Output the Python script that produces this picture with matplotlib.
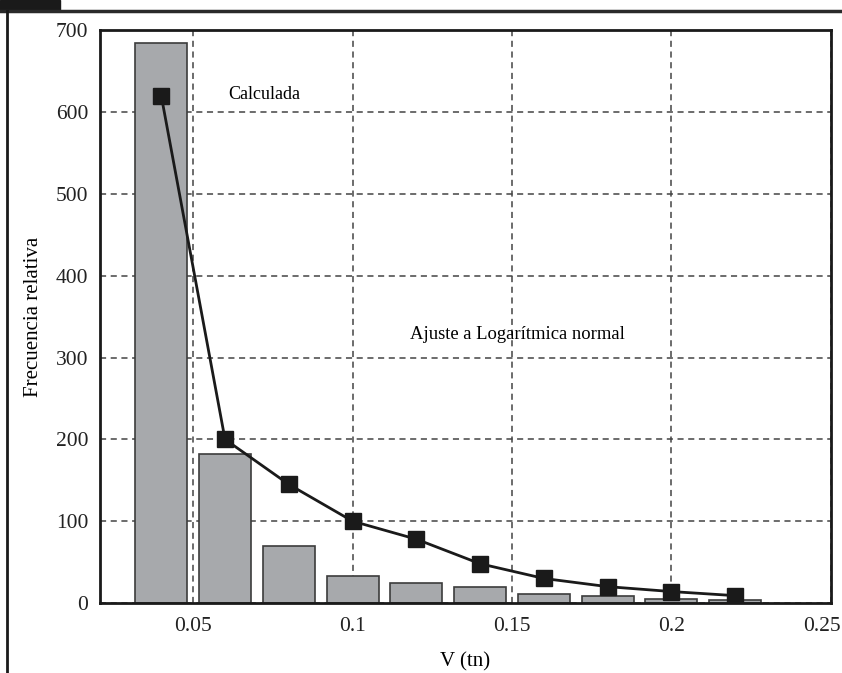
import matplotlib
matplotlib.use("Agg")
import matplotlib.pyplot as plt
import matplotlib.transforms as mtransforms
from matplotlib.lines import Line2D
from matplotlib.patches import Rectangle

# data
v_bins = [0.04, 0.06, 0.08, 0.10, 0.12, 0.14, 0.16, 0.18, 0.20, 0.22]
freq_calc = [685, 182, 70, 33, 25, 19, 11, 9, 5, 4]
freq_lognorm = [620, 200, 145, 100, 78, 48, 30, 20, 14, 9]
y_ticks = [0, 100, 200, 300, 400, 500, 600, 700]
x_ticks = [0.05, 0.1, 0.15, 0.2, 0.25]
x_ticklabels = ["0.05", "0.1", "0.15", "0.2", "0.25"]

plt.rcParams['font.family'] = ['Liberation Serif', 'DejaVu Serif']

fig = plt.figure(figsize=(8.42, 6.73), dpi=100)
ax = fig.add_axes([0.1188, 0.104, 0.868, 0.851])

ax.bar(v_bins, freq_calc, width=0.0163, color='#a7a9ac', edgecolor='#3c3c3c',
       linewidth=1.2, zorder=2)
ax.plot(v_bins, freq_lognorm, color='#1a1a1a', linewidth=2, marker='s',
        markersize=11, markerfacecolor='#1a1a1a', markeredgecolor='#1a1a1a', zorder=3)

ax.set_xlim(0.0208, 0.25)
ax.set_ylim(0, 695)
ax.set_yticks(y_ticks)
ax.set_xticks(x_ticks)
ax.set_xticklabels(x_ticklabels)
ax.grid(True, linestyle=(0, (4, 3)), color='#444444', linewidth=1.1, zorder=1)
ax.set_axisbelow(True)
ax.tick_params(axis='both', length=0, labelsize=15.5, colors='#222222')
ax.tick_params(axis='x', pad=10)
ax.tick_params(axis='y', pad=8.5)
for s in ax.spines.values():
    s.set_linewidth(2)
    s.set_color('#1a1a1a')

# last x label sits a bit left of the frame edge, like the original
last = ax.get_xticklabels()[-1]
last.set_transform(last.get_transform() +
                   mtransforms.ScaledTranslation(-0.09, 0, fig.dpi_scale_trans))

ax.set_xlabel('V (tn)', fontsize=15, labelpad=12)
ax.set_ylabel('Frecuencia relativa', fontsize=15, labelpad=9)

ax.text(0.0723, 622, 'Calculada', fontsize=13, ha='center', va='center')
ax.text(0.1517, 328, 'Ajuste a Logarítmica normal', fontsize=13.4, ha='center', va='center')

# cropped page header and frame
fig.add_artist(Rectangle((0, 1 - 10 / 673), 60 / 842, 10 / 673, transform=fig.transFigure,
                         color='#1a1a1a'))
fig.add_artist(Line2D([0, 1], [1 - 11 / 673, 1 - 11 / 673], transform=fig.transFigure,
                      color='#2a2a2a', linewidth=2.5))
fig.add_artist(Line2D([7 / 842, 7 / 842], [0, 1 - 11 / 673], transform=fig.transFigure,
                      color='#1a1a1a', linewidth=2))

fig.savefig('out.png', dpi=100)
